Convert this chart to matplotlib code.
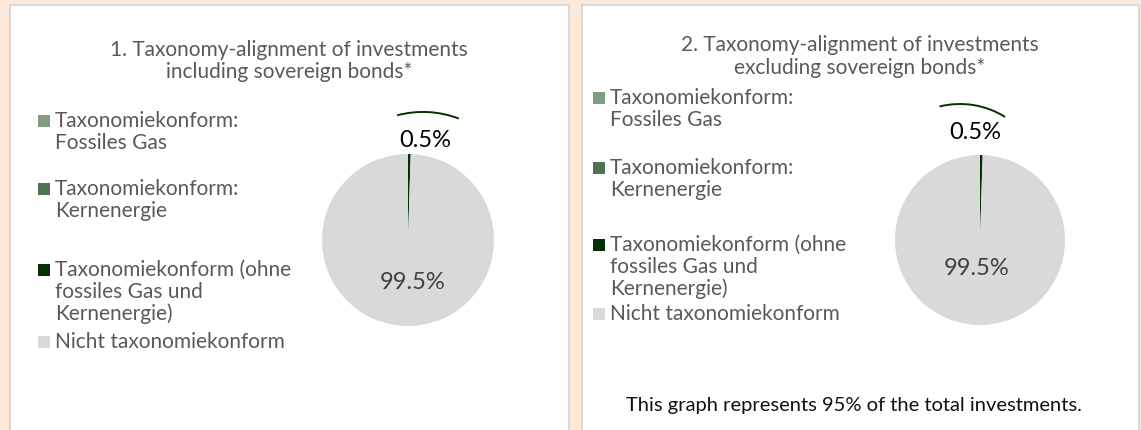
import matplotlib
matplotlib.use("Agg")
import matplotlib.pyplot as plt
from matplotlib.patches import Rectangle, Arc

plt.rcParams['font.family'] = ['Lato', 'DejaVu Sans']

# data
categories = [
    "Taxonomiekonform:\nFossiles Gas",
    "Taxonomiekonform:\nKernenergie",
    "Taxonomiekonform (ohne\nfossiles Gas und\nKernenergie)",
    "Nicht taxonomiekonform",
]
incl_values = [0.0, 0.0, 0.5, 99.5]
excl_values = [0.0, 0.0, 0.5, 99.5]
colors = ["#809C82", "#4F7352", "#043104", "#D9D9D9"]
titles = [
    "1. Taxonomy-alignment of investments\nincluding sovereign bonds*",
    "2. Taxonomy-alignment of investments\nexcluding sovereign bonds*",
]
note = "This graph represents 95% of the total investments."

W, H = 1141, 430
BG = "#FDE9DA"
BORDER = "#D9D9D9"
TXT = "#595959"
LINE = 21.7  # px between text lines

# layout per panel (pixels)
panels = [
    dict(box=(10, 5, 559, 440), title_xy=(289, 50), leg_x=38, leg_y=[121, 189, 270, 342],
         center=(408, 240), r=86, small_lab=(0.20, 1.16), big_lab=(0.05, -0.49),
         arc=((0.174, 0.326), 1.163, 69, 105)),
    dict(box=(582, 5, 557, 440), title_xy=(860, 45), leg_x=593, leg_y=[98, 168, 245, 314],
         center=(980, 240), r=85, small_lab=(-0.06, 1.26), big_lab=(-0.04, -0.33),
         arc=((-0.235, 0.6), 1.0, 58, 104)),
]
values = [incl_values, excl_values]

fig = plt.figure(figsize=(W / 100, H / 100), dpi=100)
fig.patch.set_facecolor(BG)

bg = fig.add_axes([0, 0, 1, 1], zorder=0)
bg.set_xlim(0, W)
bg.set_ylim(H, 0)
bg.axis("off")

for p, vals, title in zip(panels, values, titles):
    x0, y0, w, h = p["box"]
    bg.add_patch(Rectangle((x0, y0), w, h, facecolor="white", edgecolor=BORDER, lw=1.5))
    tx, ty = p["title_xy"]
    for i, line in enumerate(title.split("\n")):
        bg.text(tx, ty + i * 22.5, line, ha="center", va="center",
                fontsize=15, color=TXT)

    # legend
    lx = p["leg_x"]
    for lab, col, ly in zip(categories, colors, p["leg_y"]):
        bg.add_patch(Rectangle((lx, ly - 6), 12, 12, facecolor=col, edgecolor="none"))
        for i, line in enumerate(lab.split("\n")):
            bg.text(lx + 17, ly + i * LINE, line, ha="left", va="center",
                    fontsize=15, color=TXT)

    # pie
    cx, cy = p["center"]
    r = p["r"]
    ext = 1.8
    ax = fig.add_axes([(cx - ext * r) / W, (H - cy - ext * r) / H,
                       2 * ext * r / W, 2 * ext * r / H], zorder=1)
    ax.pie(vals, colors=colors, startangle=90, counterclock=False, radius=1,
           wedgeprops=dict(linewidth=0))
    ax.set_xlim(-ext, ext)
    ax.set_ylim(-ext, ext)
    ax.axis("off")

    ax.text(p["small_lab"][0], p["small_lab"][1], f"{vals[2]:.1f}%", ha="center",
            va="center", fontsize=17, color="black")
    ax.text(p["big_lab"][0], p["big_lab"][1], f"{vals[3]:.1f}%", ha="center",
            va="center", fontsize=17, color="#404040")
    (ax_c, ay_c), ar, t1, t2 = p["arc"]
    ax.add_patch(Arc((ax_c, ay_c), 2 * ar, 2 * ar, theta1=t1, theta2=t2,
                     color=colors[2], lw=1.4))

bg.text(854, 406, note, ha="center", va="center", fontsize=14.5, color="#111111")

fig.savefig("out.png", dpi=100, facecolor=BG)
